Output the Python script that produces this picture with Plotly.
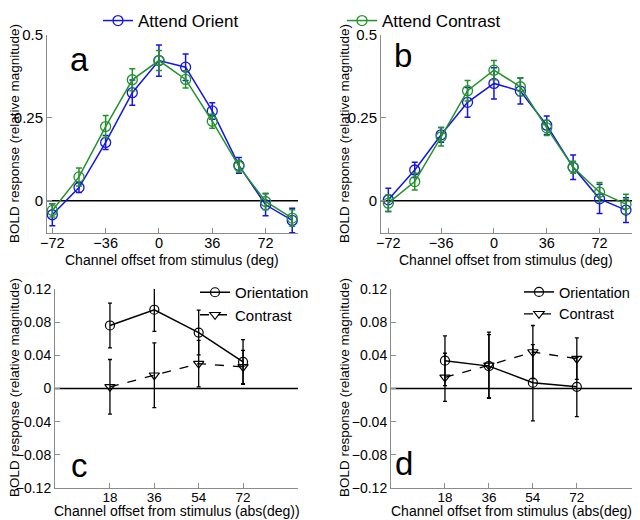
import plotly.graph_objects as go

# ---------------- data ----------------
offsets = [-72, -54, -36, -18, 0, 18, 36, 54, 72, 90]

a_orient = [-0.042, 0.040, 0.176, 0.326, 0.423, 0.403, 0.271, 0.107, -0.012, -0.059]
a_orient_err = [0.033, 0.015, 0.021, 0.038, 0.047, 0.040, 0.025, 0.024, 0.033, 0.037]
a_contrast = [-0.029, 0.072, 0.224, 0.365, 0.423, 0.366, 0.240, 0.104, -0.002, -0.052]
a_contrast_err = [0.020, 0.027, 0.033, 0.033, 0.030, 0.026, 0.021, 0.018, 0.025, 0.025]

b_orient = [0.003, 0.093, 0.199, 0.297, 0.354, 0.331, 0.228, 0.101, 0.006, -0.028]
b_orient_err = [0.035, 0.023, 0.022, 0.045, 0.047, 0.039, 0.028, 0.037, 0.044, 0.037]
b_contrast = [-0.007, 0.058, 0.193, 0.332, 0.394, 0.344, 0.220, 0.101, 0.026, -0.010]
b_contrast_err = [0.025, 0.025, 0.028, 0.031, 0.029, 0.027, 0.023, 0.018, 0.029, 0.030]

abs_offsets = [18, 36, 54, 72]
c_orientation = [0.076, 0.095, 0.0675, 0.032]
c_orientation_err = [0.027, 0.026, 0.027, 0.027]
c_contrast = [0.002, 0.016, 0.030, 0.026]
c_contrast_err = [0.033, 0.039, 0.028, 0.020]

d_orientation = [0.0335, 0.027, 0.007, 0.002]
d_orientation_err = [0.030, 0.038, 0.046, 0.036]
d_contrast = [0.0135, 0.028, 0.044, 0.036]
d_contrast_err = [0.029, 0.040, 0.032, 0.025]

top_xticks = [-72, -36, 0, 36, 72]
top_yticks = [0, 0.25, 0.5]
top_yticklabels = ["0", "0.25", "0.5"]
bot_xticks = [18, 36, 54, 72]
bot_yticks = [-0.12, -0.08, -0.04, 0, 0.04, 0.08, 0.12]
bot_yticklabels = ["\u22120.12", "\u22120.08", "\u22120.04", "0", "0.04", "0.08", "0.12"]

BLUE = "#1414e6"
GREEN = "#24922a"
AXC = "#8c8c8c"
FONT = "Liberation Sans, Arial, sans-serif"

W, H = 640, 520
OFF = 8  # the page places the figure 8 px from the window's top-left corner


def sx(px):
    return (px - OFF) / W


def sy(py):
    return 1 - (py - OFF) / H


def dx(p0, p1):
    return [sx(p0), sx(p1)]


def dy(p_top, p_bot):
    return [sy(p_bot), sy(p_top)]


fig = go.Figure()

# ---- panels a and b ----
for k, (xa, ya, o, oe, c, ce) in enumerate([
    ("x", "y", a_orient, a_orient_err, a_contrast, a_contrast_err),
    ("x2", "y2", b_orient, b_orient_err, b_contrast, b_contrast_err),
]):
    fig.add_trace(go.Scatter(
        x=offsets, y=o, xaxis=xa, yaxis=ya, mode="lines+markers",
        name="Attend Orient", legend="legend", showlegend=(k == 0),
        line=dict(color=BLUE, width=1.5),
        marker=dict(symbol="circle-open", size=10, color=BLUE, line=dict(width=1.3)),
        error_y=dict(type="data", array=oe, color=BLUE, thickness=1.5, width=3),
    ))
    fig.add_trace(go.Scatter(
        x=offsets, y=c, xaxis=xa, yaxis=ya, mode="lines+markers",
        name="Attend Contrast", legend="legend2", showlegend=(k == 0),
        line=dict(color=GREEN, width=1.5),
        marker=dict(symbol="circle-open", size=10, color=GREEN, line=dict(width=1.3)),
        error_y=dict(type="data", array=ce, color=GREEN, thickness=1.5, width=3),
    ))

# ---- panels c and d ----
for k, (xa, ya, o, oe, c, ce, lg) in enumerate([
    ("x3", "y3", c_orientation, c_orientation_err, c_contrast, c_contrast_err, "legend3"),
    ("x4", "y4", d_orientation, d_orientation_err, d_contrast, d_contrast_err, "legend4"),
]):
    fig.add_trace(go.Scatter(
        x=abs_offsets, y=o, xaxis=xa, yaxis=ya, mode="lines+markers",
        name="Orientation", legend=lg,
        line=dict(color="black", width=1.5),
        marker=dict(symbol="circle-open", size=9, color="black", line=dict(width=1.2)),
        error_y=dict(type="data", array=oe, color="black", thickness=1.3, width=2),
    ))
    fig.add_trace(go.Scatter(
        x=abs_offsets, y=c, xaxis=xa, yaxis=ya, mode="lines+markers",
        name="Contrast", legend=lg,
        line=dict(color="black", width=1.3, dash="dash"),
        marker=dict(symbol="triangle-down-open", size=9, color="black", line=dict(width=1.2)),
        error_y=dict(type="data", array=ce, color="black", thickness=1.3, width=2),
    ))

axis_common = dict(
    showline=True, linecolor=AXC, linewidth=1, mirror=False,
    ticks="inside", ticklen=5, tickcolor=AXC, tickwidth=1,
    showgrid=False, zeroline=False, automargin=False,
)
top_tf = dict(family=FONT, color="black", size=15)
topx_tf = dict(family=FONT, color="black", size=14.5)
bot_tf = dict(family=FONT, color="black", size=14)
botx_tf = dict(family=FONT, color="black", size=13.5)

layout = dict(
    width=W, height=H, margin=dict(l=0, r=0, t=0, b=0, autoexpand=False),
    paper_bgcolor="white", plot_bgcolor="white",
    font=dict(family=FONT, color="black"),
    xaxis=dict(domain=dx(47, 298), range=[-75.6, 93.9], anchor="y",
               tickvals=top_xticks, tickfont=topx_tf, ticklabelstandoff=-3, **axis_common),
    yaxis=dict(domain=dy(35, 233), range=[-0.097, 0.5], anchor="x",
               tickvals=top_yticks, ticktext=top_yticklabels, tickfont=top_tf, **axis_common),
    xaxis2=dict(domain=dx(381, 633), range=[-77.0, 94.8], anchor="y2",
                tickvals=top_xticks, tickfont=topx_tf, ticklabelstandoff=-3, **axis_common),
    yaxis2=dict(domain=dy(35, 233), range=[-0.097, 0.5], anchor="x2",
                tickvals=top_yticks, ticktext=top_yticklabels, tickfont=top_tf, **axis_common),
    xaxis3=dict(domain=dx(55, 298), range=[-4.3, 94.3], anchor="y3",
                tickvals=bot_xticks, tickfont=botx_tf, ticklabelstandoff=-3, **axis_common),
    yaxis3=dict(domain=dy(289, 488), range=[-0.12, 0.12], anchor="x3",
                tickvals=bot_yticks, ticktext=bot_yticklabels, tickfont=bot_tf, **axis_common),
    xaxis4=dict(domain=dx(391, 633), range=[-4.1, 95.0], anchor="y4",
                tickvals=bot_xticks, tickfont=botx_tf, ticklabelstandoff=-3, **axis_common),
    yaxis4=dict(domain=dy(289, 488), range=[-0.12, 0.12], anchor="x4",
                tickvals=bot_yticks, ticktext=bot_yticklabels, tickfont=bot_tf, **axis_common),
    legend=dict(x=90 / W, y=1 + 5 / H, xanchor="left", yanchor="top",
                font=dict(size=17, family=FONT), bgcolor="rgba(0,0,0,0)"),
    legend2=dict(x=334 / W, y=1 + 5 / H, xanchor="left", yanchor="top",
                 font=dict(size=17, family=FONT), bgcolor="rgba(0,0,0,0)"),
    legend3=dict(x=187 / W, y=1 - 268 / H, xanchor="left", yanchor="top",
                 font=dict(size=15, family=FONT), bgcolor="rgba(0,0,0,0)",
                 tracegroupgap=0),
    legend4=dict(x=511 / W, y=1 - 268 / H, xanchor="left", yanchor="top",
                 font=dict(size=14.5, family=FONT), bgcolor="rgba(0,0,0,0)",
                 tracegroupgap=0),
    showlegend=True,
)
fig.update_layout(**layout)

# zero lines
for xa, ya in [("x", "y"), ("x2", "y2"), ("x3", "y3"), ("x4", "y4")]:
    fig.add_shape(type="line", xref=f"{xa} domain", yref=ya, x0=0, x1=1, y0=0, y1=0,
                  line=dict(color="black", width=1.5), layer="below")

# panel letters
for letter, px, py in [("a", 79, 60), ("b", 403, 55), ("c", 79, 465), ("d", 404, 463)]:
    fig.add_annotation(text=letter, x=sx(px), y=sy(py), xref="paper", yref="paper",
                       showarrow=False, font=dict(size=33, family=FONT, color="black"),
                       xanchor="center", yanchor="middle")

# axis titles
ytitle = "BOLD response (relative magnitude)"
for px, py in [(14, 134), (344, 134), (14, 388), (344, 388)]:
    fig.add_annotation(text=ytitle, x=sx(px), y=sy(py), xref="paper", yref="paper",
                       showarrow=False, textangle=-90, font=dict(size=13.5, family=FONT),
                       xanchor="center", yanchor="middle")
for txt, px, py in [("Channel offset from stimulus (deg)", 172, 260),
                    ("Channel offset from stimulus (deg)", 506, 260),
                    ("Channel offset from stimulus (abs(deg))", 177, 511),
                    ("Channel offset from stimulus (abs(deg))", 514, 511)]:
    fig.add_annotation(text=txt, x=sx(px), y=sy(py), xref="paper", yref="paper",
                       showarrow=False, font=dict(size=14, family=FONT),
                       xanchor="center", yanchor="middle")

fig.write_html("out.html")
